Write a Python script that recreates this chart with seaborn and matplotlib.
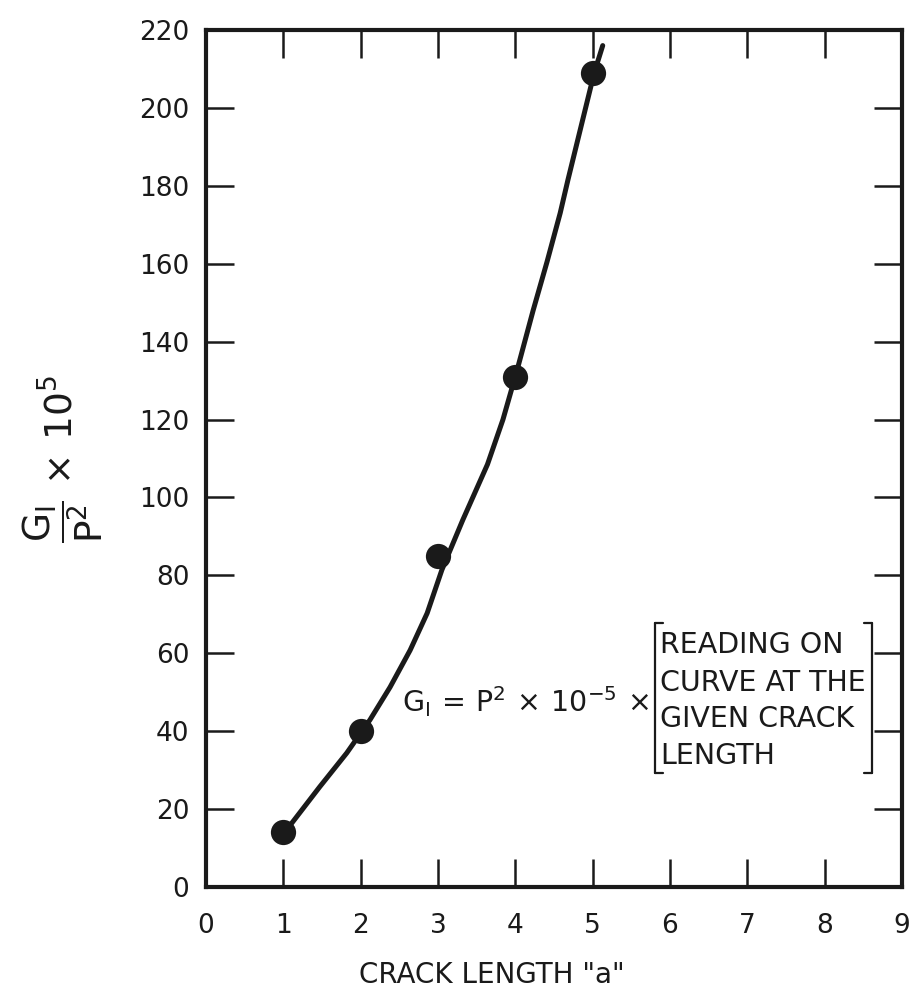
import matplotlib
matplotlib.use("Agg")
import matplotlib.pyplot as plt
from matplotlib.lines import Line2D
import seaborn as sns
import pandas as pd

# Measured points
crack_length = [1.0, 2.0, 3.0, 4.0, 5.0]
g_over_p2 = [14, 40, 85, 131, 209]

# Faired curve
curve_x = [1.0, 1.09, 1.47, 1.82, 2.12, 2.38, 2.64, 2.86, 3.05, 3.32, 3.64, 3.84,
           4.02, 4.23, 4.41, 4.58, 4.68, 5.02, 5.13]
curve_y = [13, 15.9, 25.7, 34.4, 42.9, 51.3, 60.8, 70.3, 81.4, 94.2, 108.5, 120.0,
           132.5, 148.0, 160.5, 173, 181.5, 209, 216]

x_ticks = [0, 1, 2, 3, 4, 5, 6, 7, 8, 9]
y_ticks = [0, 20, 40, 60, 80, 100, 120, 140, 160, 180, 200, 220]

note_lines = ["READING ON", "CURVE AT THE", "GIVEN CRACK", "LENGTH"]

sns.set_theme(style="ticks")
plt.rcParams["font.family"] = ["DejaVu Sans"]
plt.rcParams["mathtext.fontset"] = "dejavusans"

ink = "#1a1a1a"
fig = plt.figure(figsize=(9.12, 9.9), dpi=100)
ax = fig.add_axes([206 / 912, 1 - 887 / 990, 696 / 912, 857 / 990])

pts = pd.DataFrame({"a": crack_length, "g": g_over_p2})
crv = pd.DataFrame({"a": curve_x, "g": curve_y})

sns.lineplot(data=crv, x="a", y="g", sort=False, ax=ax, color=ink, linewidth=3.6,
             solid_capstyle="round", solid_joinstyle="round")
sns.scatterplot(data=pts, x="a", y="g", ax=ax, color=ink, s=330, edgecolor=ink,
                linewidth=0, zorder=5)

ax.set_xlim(0, 9)
ax.set_ylim(0, 220)
ax.set_xticks(x_ticks)
ax.set_yticks(y_ticks)
ax.set_xticklabels([str(v) for v in x_ticks])
ax.set_yticklabels([str(v) for v in y_ticks])

for s in ax.spines.values():
    s.set_linewidth(3.0)
    s.set_color(ink)
    s.set_visible(True)

ax.tick_params(axis="both", which="major", direction="in", length=20, width=1.8,
               color=ink, labelsize=19, labelcolor=ink,
               top=True, right=True, bottom=True, left=True)
ax.tick_params(axis="x", pad=19)
ax.tick_params(axis="y", pad=12)

ax.set_xlabel('CRACK LENGTH "a"', fontsize=20, color=ink)
ax.xaxis.set_label_coords(0.41, -0.086)
ax.set_ylabel(r"$\mathregular{\dfrac{G_I}{P^2}\,\times\,10^5}$", fontsize=27, color=ink,
              rotation=90)
ax.yaxis.set_label_coords(-0.145, 0.5)

# Equation annotation
ax.text(0.637, 0.216, r"$\mathregular{G_{I}\,=\,P^2\,\times\,10^{-5}\,\times}$",
        transform=ax.transAxes, ha="right", va="center", fontsize=20.5, color=ink)
line_y = [0.282, 0.238, 0.196, 0.153]
for txt, yy in zip(note_lines, line_y):
    ax.text(0.653, yy, txt, transform=ax.transAxes, ha="left", va="center",
            fontsize=20.5, color=ink)

# brackets
lb_x, rb_x = 0.645, 0.957
y0, y1 = 0.133, 0.308
ser = 0.012
for seg in [([lb_x, lb_x], [y0, y1]), ([lb_x, lb_x + ser], [y1, y1]), ([lb_x, lb_x + ser], [y0, y0]),
            ([rb_x, rb_x], [y0, y1]), ([rb_x - ser, rb_x], [y1, y1]), ([rb_x - ser, rb_x], [y0, y0])]:
    ax.add_line(Line2D(seg[0], seg[1], transform=ax.transAxes, color=ink, linewidth=1.6))

fig.savefig("out.png", dpi=100)
